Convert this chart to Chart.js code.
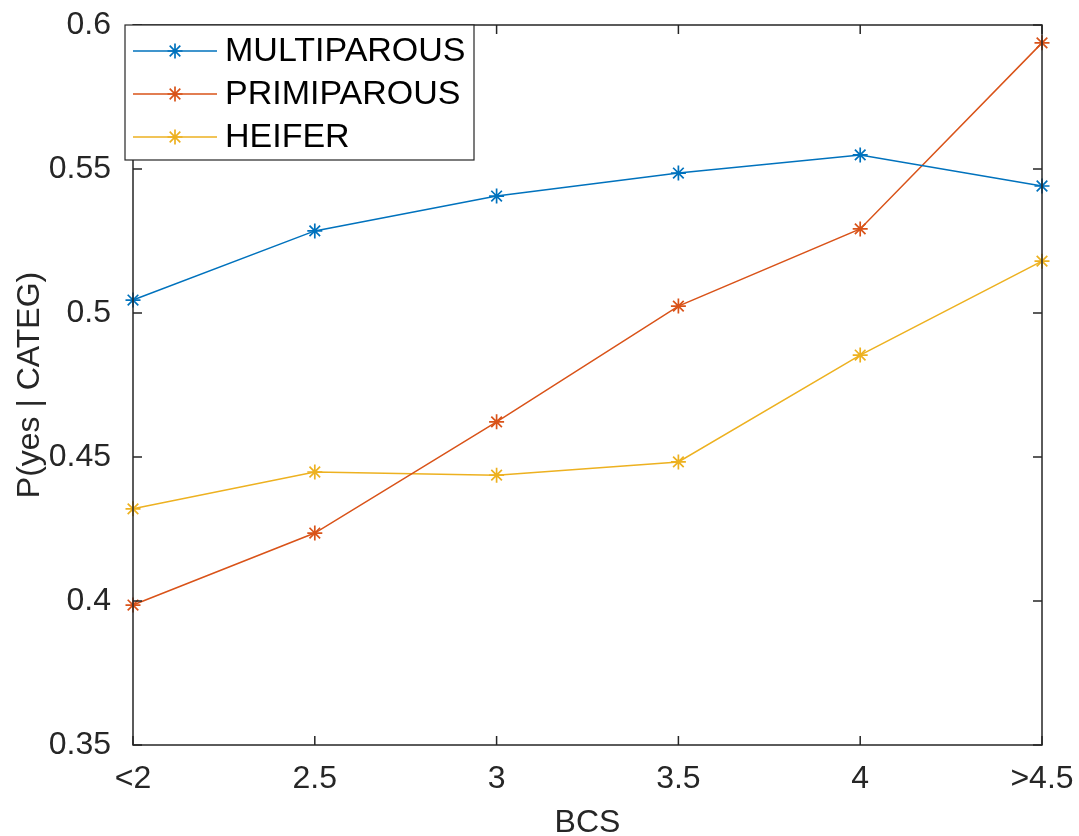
<!DOCTYPE html>
<html>
<head>
<meta charset="utf-8">
<script src="https://cdn.jsdelivr.net/npm/chart.js@4.4.1/dist/chart.umd.min.js"></script>
<style>
  html, body { margin: 0; padding: 0; background: #fff; }
  #wrap { width: 1079px; height: 836px; }
</style>
</head>
<body>
<div id="wrap"><canvas id="chart" width="1079" height="836"></canvas></div>
<script>
// values
var bcsLabels = ['<2', '2.5', '3', '3.5', '4', '>4.5'];
var multiparous = [0.5045, 0.5285, 0.5406, 0.5486, 0.5549, 0.5441];
var primiparous = [0.3986, 0.4236, 0.4622, 0.5024, 0.5292, 0.5938];
var heifer = [0.4320, 0.4448, 0.4437, 0.4483, 0.4854, 0.5180];
var yTicks = [0.35, 0.4, 0.45, 0.5, 0.55, 0.6];

var axisColor = '#262626';
var fontFam = '"Liberation Sans", Arial, Helvetica, sans-serif';

function series(label, data, color) {
  return {
    label: label,
    data: data,
    borderColor: color,
    backgroundColor: color,
    pointBorderColor: color,
    borderWidth: 1.5,
    pointStyle: 'star',
    pointRadius: 7.5,
    pointBorderWidth: 1.7,
    tension: 0
  };
}

// matlab style box with inward ticks on all sides
var boxPlugin = {
  id: 'boxPlugin',
  afterDatasetsDraw: function(chart) {
    var ctx = chart.ctx, a = chart.chartArea;
    var xs = chart.scales.x, ys = chart.scales.y;
    var tl = 9;
    ctx.save();
    ctx.strokeStyle = axisColor;
    ctx.lineWidth = 1.5;
    ctx.strokeRect(a.left, a.top, a.right - a.left, a.bottom - a.top);
    ctx.beginPath();
    for (var i = 0; i < bcsLabels.length; i++) {
      var px = xs.getPixelForValue(i);
      ctx.moveTo(px, a.bottom); ctx.lineTo(px, a.bottom - tl);
      ctx.moveTo(px, a.top); ctx.lineTo(px, a.top + tl);
    }
    yTicks.forEach(function(v) {
      var py = ys.getPixelForValue(v);
      ctx.moveTo(a.left, py); ctx.lineTo(a.left + tl, py);
      ctx.moveTo(a.right, py); ctx.lineTo(a.right - tl, py);
    });
    ctx.stroke();
    ctx.restore();
  },
  afterDraw: function(chart) {
    // legend box at top left of the axes
    var ctx = chart.ctx, a = chart.chartArea;
    var bx = a.left - 8, by = a.top, bw = 349, bh = 135;
    ctx.save();
    ctx.fillStyle = '#fff';
    ctx.fillRect(bx, by, bw, bh);
    ctx.strokeStyle = axisColor;
    ctx.lineWidth = 1.2;
    ctx.strokeRect(bx, by, bw, bh);
    ctx.font = '34px ' + fontFam;
    ctx.textBaseline = 'middle';
    chart.data.datasets.forEach(function(ds, i) {
      var cy = by + 26 + i * 43;
      ctx.strokeStyle = ds.borderColor;
      ctx.lineWidth = 1.5;
      ctx.beginPath();
      ctx.moveTo(bx + 8, cy); ctx.lineTo(bx + 92, cy);
      ctx.stroke();
      ctx.lineWidth = 1.7;
      Chart.helpers.drawPoint(ctx, { pointStyle: 'star', radius: 7.5, rotation: 0, borderWidth: 1.7 }, bx + 50, cy);
      ctx.fillStyle = '#000';
      ctx.fillText(ds.label, bx + 100, cy + 1);
    });
    ctx.restore();
  }
};

new Chart(document.getElementById('chart'), {
  type: 'line',
  data: {
    labels: bcsLabels,
    datasets: [
      series('MULTIPAROUS', multiparous, '#0072BD'),
      series('PRIMIPAROUS', primiparous, '#D95319'),
      series('HEIFER', heifer, '#EDB120')
    ]
  },
  options: {
    responsive: false,
    animation: false,
    layout: { padding: { top: 25, right: 37, left: 0, bottom: 0 } },
    plugins: {
      legend: { display: false },
      tooltip: { enabled: false }
    },
    scales: {
      x: {
        type: 'category',
        offset: false,
        grid: { display: false },
        border: { display: false },
        ticks: {
          color: axisColor,
          font: { family: fontFam, size: 32 },
          padding: 7,
          maxRotation: 0,
          autoSkip: false
        },
        title: {
          display: true,
          text: 'BCS',
          color: axisColor,
          font: { family: fontFam, size: 32, lineHeight: 0.8 },
          padding: { top: 0, bottom: 0 }
        },
        afterFit: function(scale) {
          scale.height = 91;
          scale.paddingLeft = 0;
          scale.paddingRight = 0;
        }
      },
      y: {
        min: 0.35,
        max: 0.6,
        grid: { display: false },
        border: { display: false },
        afterBuildTicks: function(scale) {
          scale.ticks = yTicks.map(function(v) { return { value: v }; });
        },
        ticks: {
          color: axisColor,
          font: { family: fontFam, size: 32 },
          padding: 14,
          callback: function(v) { return String(+v.toFixed(2)); }
        },
        title: {
          display: true,
          text: 'P(yes | CATEG)',
          color: axisColor,
          font: { family: fontFam, size: 32, lineHeight: 1 },
          padding: { top: 14, bottom: 0 }
        },
        afterFit: function(scale) {
          scale.width = 133;
          scale.paddingTop = 0;
          scale.paddingBottom = 0;
        }
      }
    }
  },
  plugins: [boxPlugin]
});
</script>
</body>
</html>
